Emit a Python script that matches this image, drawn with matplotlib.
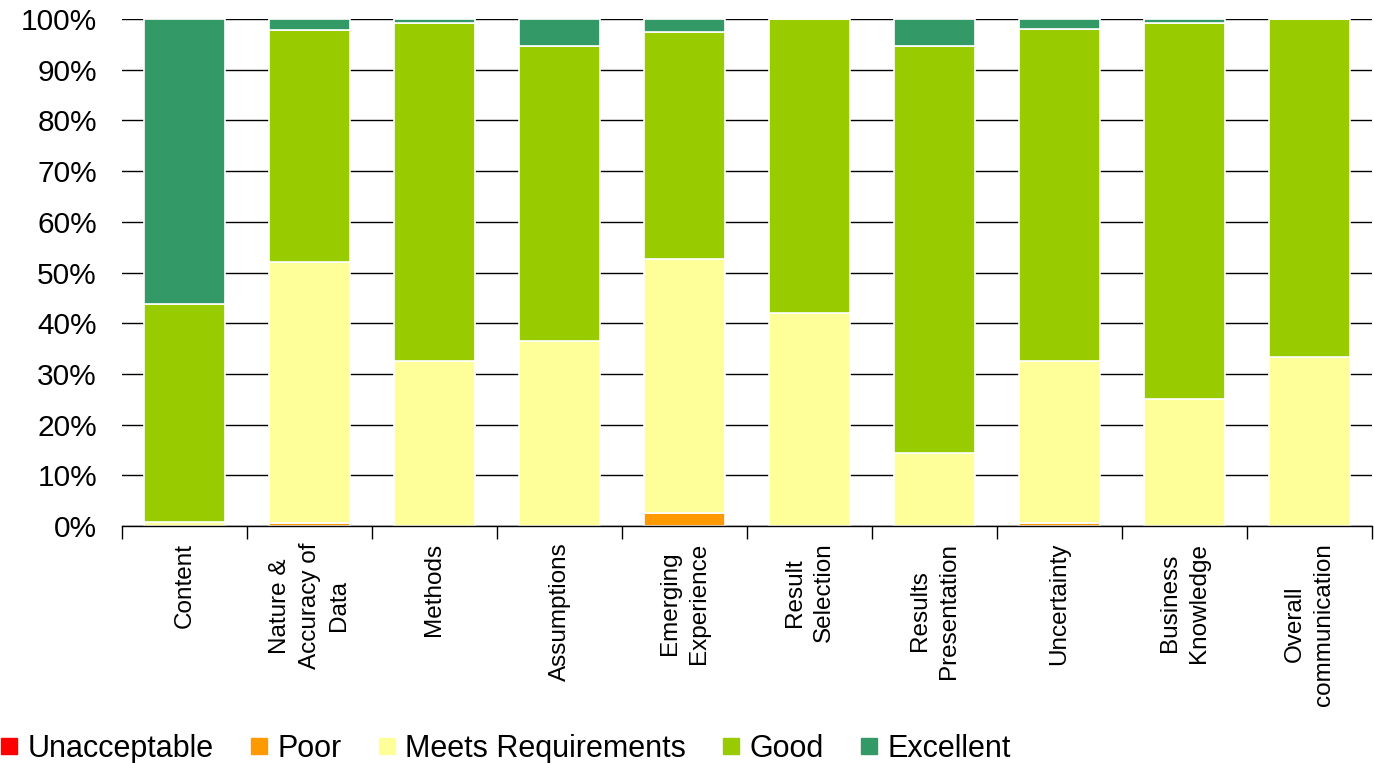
import matplotlib.pyplot as plt
import numpy as np
from matplotlib.lines import Line2D

plt.rcParams["font.family"] = ["Liberation Sans", "DejaVu Sans"]

categories = [
    "Content",
    "Nature &\nAccuracy of\nData",
    "Methods",
    "Assumptions",
    "Emerging\nExperience",
    "Result\nSelection",
    "Results\nPresentation",
    "Uncertainty",
    "Business\nKnowledge",
    "Overall\ncommunication",
]

# share of ratings per category, in percent
unacceptable = [0.0, 0.0, 0.0, 0.0, 0.0, 0.0, 0.0, 0.0, 0.0, 0.0]
poor = [0.0, 0.6, 0.0, 0.0, 2.6, 0.0, 0.0, 0.6, 0.0, 0.0]
meets = [0.8, 51.5, 32.5, 36.5, 50.1, 42.0, 14.4, 31.9, 25.0, 33.3]
good = [43.0, 45.7, 66.7, 58.2, 44.7, 58.0, 80.3, 65.5, 74.2, 66.7]
excellent = [56.2, 2.2, 0.8, 5.3, 2.6, 0.0, 5.3, 2.0, 0.8, 0.0]

series = [
    ("Unacceptable", unacceptable, "#ff0000"),
    ("Poor", poor, "#ff9900"),
    ("Meets Requirements", meets, "#ffff99"),
    ("Good", good, "#99cc00"),
    ("Excellent", excellent, "#339966"),
]

fig = plt.figure(figsize=(13.74, 7.63), dpi=100)
ax = fig.add_axes([0.0888, 0.3106, 0.9097, 0.6645])

x = np.arange(len(categories))
bottom = np.zeros(len(categories))
for name, vals, color in series:
    vals = np.array(vals)
    ax.bar(x, vals, bottom=bottom, width=0.65, color=color,
           edgecolor="white", linewidth=1.2, zorder=2)
    bottom += vals

ax.set_xlim(-0.5, len(categories) - 0.5)
ax.set_ylim(0, 100)
ax.set_yticks(np.arange(0, 101, 10))
ax.set_yticklabels([f"{v}%" for v in range(0, 101, 10)], fontsize=21.5)
ax.tick_params(axis="y", length=0, pad=18)
ax.yaxis.grid(True, color="black", linewidth=1.0, zorder=0)
ax.set_axisbelow(True)

ax.set_xticks(x)
ax.set_xticklabels(categories, rotation=90, fontsize=17.5, ha="center", va="top",
                   linespacing=1.42)
ax.tick_params(axis="x", which="major", length=0, pad=12)
ax.set_xticks(np.arange(-0.5, len(categories)), minor=True)
ax.tick_params(axis="x", which="minor", length=9, width=1, color="black")

for side in ["left", "right", "top"]:
    ax.spines[side].set_visible(False)
ax.spines["bottom"].set_color("black")
ax.spines["bottom"].set_linewidth(1)

handles = [Line2D([], [], marker="s", linestyle="none", markersize=11.5,
                  markerfacecolor=c, markeredgecolor=c) for _, _, c in series]
fig.legend(handles, [n for n, _, _ in series], loc="center left",
           bbox_to_anchor=(0.0, 0.019), ncol=5, frameon=False, fontsize=22,
           borderpad=0, borderaxespad=0, handletextpad=0.3,
           columnspacing=1.18, handlelength=0.6)

fig.savefig("out.png", dpi=100)
